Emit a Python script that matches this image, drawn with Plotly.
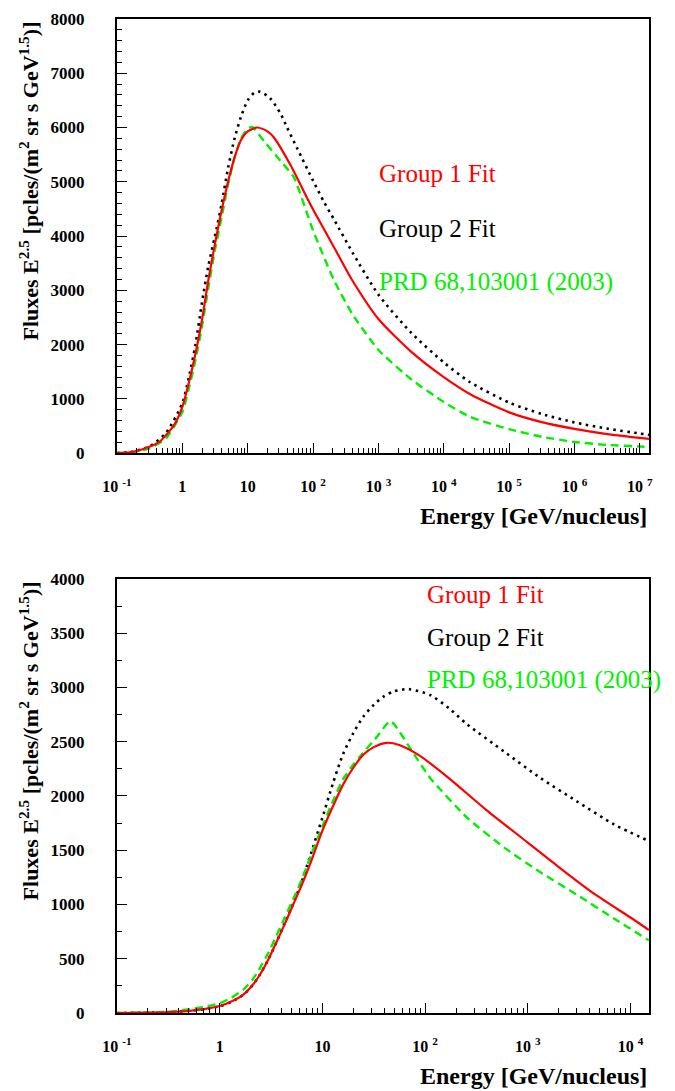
import plotly.graph_objects as go

# ---------------- data: top panel ----------------
top_e_red = [0.1, 0.18, 0.32, 0.45, 0.56, 0.71, 0.84, 1.0, 1.26, 1.58, 2.0, 2.5, 3.16, 4.0, 5.0, 6.3, 7.9,
             10, 14, 20, 25, 46, 81, 100, 210, 400, 1000, 3160, 1e4, 2.5e4, 1e5, 3.16e5, 1e6, 3.16e6, 1e7, 1.38e7]
top_f_red = [0, 25, 120, 210, 330, 480, 630, 850, 1300, 1820, 2460, 3190, 3860, 4480, 5000, 5450, 5770,
             5930, 6000, 5930, 5820, 5290, 4700, 4490, 3790, 3180, 2470, 1870, 1400, 1090, 750, 570, 445, 350, 280, 262]

top_e_black = [0.1, 0.18, 0.32, 0.56, 1.0, 1.26, 1.58, 2.0, 2.5, 3.16, 4.0, 5.0, 6.3, 7.9, 10, 12.6, 15.5,
               22, 32, 40, 58, 100, 148, 210, 400, 1000, 3160, 1e4, 2.5e4, 1e5, 3.16e5, 1e6, 3.16e6, 1e7, 1.38e7]
top_f_black = [0, 30, 130, 370, 920, 1400, 1980, 2780, 3450, 4000, 4600, 5250, 5800, 6200, 6500, 6640, 6660,
               6540, 6250, 6000, 5600, 5020, 4620, 4300, 3700, 2920, 2220, 1670, 1310, 930, 720, 565, 450, 360, 335]

top_e_green = [0.1, 0.18, 0.32, 0.56, 1.0, 1.26, 1.58, 2.0, 2.5, 3.16, 4.0, 5.0, 6.3, 7.9, 10, 11.7,
               18, 32, 51, 100, 210, 400, 1000, 3160, 1e4, 2.5e4, 1e5, 3.16e5, 1e6, 3.16e6, 1e7, 1.38e7]
top_f_green = [0, 20, 90, 270, 755, 1200, 1700, 2340, 3050, 3750, 4350, 4950, 5450, 5800, 5980, 6010,
               5740, 5380, 5080, 4100, 3180, 2560, 1900, 1360, 940, 670, 440, 300, 205, 150, 120, 113]

# ---------------- data: bottom panel ----------------
bot_e_red = [0.1, 0.2, 0.32, 0.51, 0.7, 1.0, 1.3, 1.7, 2.1, 2.45, 3.0, 3.56, 4.3, 5.2, 6.3, 7.5, 10, 12.6,
             15.8, 20, 25, 31.6, 42, 56, 89, 170, 390, 1000, 2000, 4560, 1e4, 1.51e4]
bot_f_red = [0, 3, 8, 20, 35, 64, 105, 170, 260, 350, 500, 650, 820, 1000, 1180, 1360, 1680, 1900,
             2100, 2260, 2380, 2450, 2490, 2470, 2370, 2165, 1875, 1570, 1345, 1090, 880, 765]

bot_e_black = [0.1, 0.2, 0.32, 0.51, 0.7, 1.0, 1.3, 1.7, 2.1, 2.45, 3.0, 3.56, 4.3, 5.2, 6.3, 7.5, 10, 12.6,
               15.8, 20, 25, 31.6, 40, 50, 69, 112, 170, 257, 590, 1330, 3000, 6900, 1.51e4]
bot_f_black = [0, 3, 8, 20, 35, 62, 103, 168, 258, 350, 500, 650, 830, 1010, 1210, 1430, 1800, 2110,
               2380, 2580, 2730, 2840, 2920, 2965, 2985, 2930, 2810, 2660, 2408, 2165, 1951, 1738, 1585]

bot_e_green = [0.1, 0.2, 0.32, 0.51, 0.7, 1.0, 1.3, 1.7, 2.1, 2.45, 3.0, 3.56, 4.3, 5.2, 6.3, 7.5, 10, 12.6,
               15.8, 20, 23, 33.6, 46, 75, 112, 257, 590, 1330, 3000, 6900, 1.51e4]
bot_f_green = [0, 5, 12, 34, 55, 90, 140, 215, 310, 410, 560, 710, 880, 1050, 1230, 1420, 1720, 1950,
               2150, 2290, 2360, 2540, 2690, 2409, 2165, 1799, 1524, 1296, 1090, 870, 670]

top_xticks = [0.1, 1, 10, 100, 1e3, 1e4, 1e5, 1e6, 1e7]
top_xlabels = ["10 <sup>-1</sup>", "1", "10", "10 <sup>2</sup>", "10 <sup>3</sup>", "10 <sup>4</sup>",
               "10 <sup>5</sup>", "10 <sup>6</sup>", "10 <sup>7</sup>"]
bot_xticks = [0.1, 1, 10, 100, 1e3, 1e4]
bot_xlabels = ["10 <sup>-1</sup>", "1", "10", "10 <sup>2</sup>", "10 <sup>3</sup>", "10 <sup>4</sup>"]

legend_labels = ["Group 1 Fit", "Group 2 Fit", "PRD 68,103001 (2003)"]
x_title = "Energy [GeV/nucleus]"
y_title = "Fluxes E<sup>2.5</sup> [pcles/(m<sup>2</sup> sr s GeV<sup>1.5</sup>)]"

RED = "#ff0000"
GREEN = "#00f000"
BLACK = "#000000"
FONT = "Liberation Serif"


def minor_vals(lo_exp, hi_exp):
    vals = []
    for k in range(lo_exp, hi_exp + 1):
        for d in range(2, 10):
            vals.append(d * 10.0 ** k)
    return vals


fig = go.Figure()

def add_series(e, f, color, style, xa, ya):
    if style == "solid":
        line = dict(color=color, width=2.2, shape="spline", smoothing=0.7)
    elif style == "dot":
        line = dict(color=color, width=2.6, dash="2.5px,4.5px", shape="spline", smoothing=0.7)
    else:
        line = dict(color=color, width=2.4, dash="8px,5px", shape="spline", smoothing=0.5)
    fig.add_trace(go.Scatter(x=e, y=f, mode="lines", line=line, xaxis=xa, yaxis=ya,
                             showlegend=False, hoverinfo="skip"))

add_series(top_e_black, top_f_black, BLACK, "dot", "x", "y")
add_series(top_e_green, top_f_green, GREEN, "dash", "x", "y")
add_series(top_e_red, top_f_red, RED, "solid", "x", "y")
add_series(bot_e_black, bot_f_black, BLACK, "dot", "x2", "y2")
add_series(bot_e_green, bot_f_green, GREEN, "dash", "x2", "y2")
add_series(bot_e_red, bot_f_red, RED, "solid", "x2", "y2")

H_PLOT = 1003.0  # plotting area height in px (1091 - 10 - 78)
W_PLOT = 532.0

def py(p):
    return (1013 - p) / H_PLOT

def px(p):
    return (p - 117) / W_PLOT

tickfont = dict(family=FONT, size=16, color="black", weight="bold")
ytickfont = dict(family=FONT, size=17, color="black", weight="bold")

common_x = dict(type="log", showgrid=False, zeroline=False, showline=True, linecolor="black", linewidth=2,
                mirror=True, ticks="inside", ticklen=10, tickwidth=1, tickcolor="black",
                tickfont=tickfont, tickmode="array", ticklabelstandoff=18)
common_y = dict(showgrid=False, zeroline=False, showline=True, linecolor="black", linewidth=2,
                mirror=True, ticks="inside", ticklen=10, tickwidth=1, tickcolor="black",
                tickfont=ytickfont, ticklabelstandoff=27)

fig.update_layout(
    width=675, height=1091,
    margin=dict(l=117, r=26, t=10, b=78),
    paper_bgcolor="white", plot_bgcolor="white",
    xaxis=dict(common_x, domain=[0, 1], anchor="y", range=[-1, 7.14],
               tickvals=top_xticks, ticktext=top_xlabels,
               minor=dict(tickmode="array", tickvals=minor_vals(-1, 6), ticks="inside",
                          ticklen=5, tickwidth=1, tickcolor="black", showgrid=False)),
    yaxis=dict(common_y, domain=[py(448), 1], anchor="x", range=[0, 8000], dtick=1000, tick0=0,
               minor=dict(dtick=200, ticks="inside", ticklen=5, tickwidth=1, tickcolor="black", showgrid=False)),
    xaxis2=dict(common_x, domain=[0, 1], anchor="y2", range=[-1, 4.18],
                tickvals=bot_xticks, ticktext=bot_xlabels,
                minor=dict(tickmode="array", tickvals=minor_vals(-1, 4), ticks="inside",
                           ticklen=5, tickwidth=1, tickcolor="black", showgrid=False)),
    yaxis2=dict(common_y, domain=[0, py(575)], anchor="x2", range=[0, 4000], dtick=500, tick0=0,
                minor=dict(dtick=250, ticks="inside", ticklen=5, tickwidth=1, tickcolor="black", showgrid=False)),
)

annotations = []
# axis titles
for ycen in (512, 1077):
    annotations.append(dict(text="<b>" + x_title + "</b>", xref="paper", yref="paper",
                            x=1.0, y=py(ycen), xanchor="right", yanchor="middle", showarrow=False,
                            font=dict(family=FONT, size=24, color="black")))
for ytop in (11, 576):
    annotations.append(dict(text="<b>" + y_title + "</b>", xref="paper", yref="paper",
                            x=px(29), y=py(ytop), xanchor="center", yanchor="top", textangle=-90,
                            showarrow=False, font=dict(family=FONT, size=22, color="black")))
# legend texts
colors = [RED, BLACK, GREEN]
for (x0, ys) in ((377, (166, 221, 275)), (425, (591, 634, 677))):
    for lab, col, yc in zip(legend_labels, colors, ys):
        annotations.append(dict(text=lab, xref="paper", yref="paper", x=px(x0), y=py(yc),
                                xanchor="left", yanchor="middle", showarrow=False,
                                font=dict(family=FONT, size=25, color=col)))
fig.update_layout(annotations=annotations)

fig.write_html("out.html", config={"displayModeBar": False},
               post_script="document.body.style.margin='0px';")
